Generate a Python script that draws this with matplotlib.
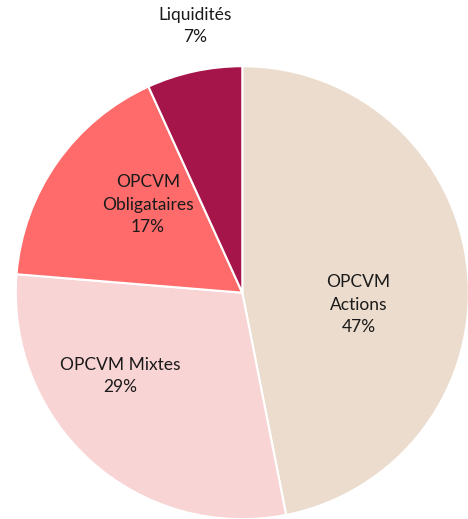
import matplotlib.pyplot as plt

labels = ['OPCVM\nActions', 'OPCVM Mixtes', 'OPCVM\nObligataires', 'Liquidités']
shares = [46.9, 29.4, 16.9, 6.8]
pct_text = ['47%', '29%', '17%', '7%']
colors = ['#EBDCCD', '#F8D4D4', '#FF6B6B', '#A61549']
# label centres in pie units (radius = 1)
label_pos = [(0.513, -0.053), (-0.540, -0.367), (-0.416, 0.389), (-0.208, 1.177)]

W, H = 468, 519
cx, cy, r = 242.3, 292.7, 226.5

fig = plt.figure(figsize=(W / 100, H / 100), dpi=100)
ax = fig.add_axes([(cx - r) / W, (H - cy - r) / H, 2 * r / W, 2 * r / H])
ax.pie(shares, colors=colors, startangle=90, counterclock=False,
       wedgeprops=dict(edgecolor='white', linewidth=1.5))
ax.set_xlim(-1, 1)
ax.set_ylim(-1, 1)
ax.set_aspect('auto')
ax.axis('off')

for lab, pct, (x, y) in zip(labels, pct_text, label_pos):
    ax.text(x, y, f'{lab}\n{pct}', ha='center', va='center', fontsize=12.5,
            family='Lato', color='#1a1a1a', linespacing=1.5, clip_on=False)

fig.savefig('out.png', dpi=100)
